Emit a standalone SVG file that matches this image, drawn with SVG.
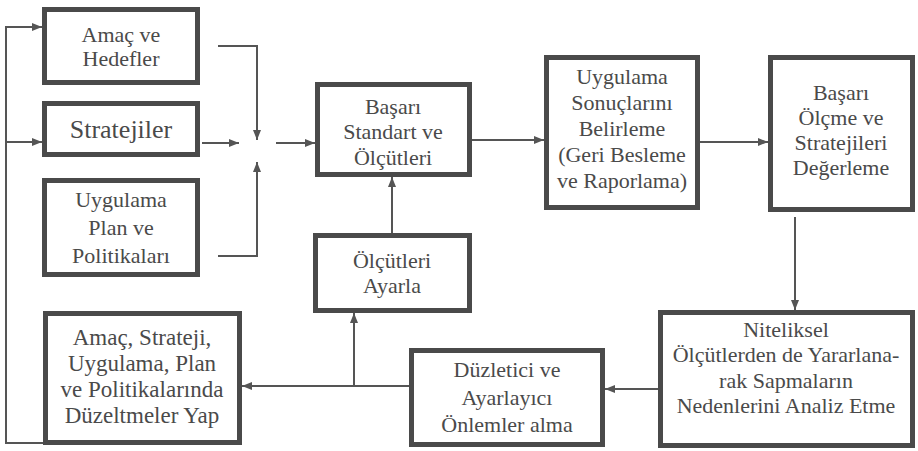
<svg xmlns="http://www.w3.org/2000/svg" width="918" height="451" viewBox="0 0 918 451">
<defs>
<marker id="ah" viewBox="0 0 10 8" refX="10" refY="4" markerWidth="10" markerHeight="8" markerUnits="userSpaceOnUse" orient="auto">
<path d="M0,0 L10,4 L0,8 z" fill="#555555" stroke="none"/>
</marker>
</defs>
<rect x="0" y="0" width="918" height="451" fill="#ffffff"/>

<g id="connectors" fill="none" stroke="#555555" stroke-width="2">
<path d="M218,46 H257 V140" marker-end="url(#ah)"/>
<path d="M202,143 H239" marker-end="url(#ah)"/>
<path d="M218,256 H257 V162" marker-end="url(#ah)"/>
<path d="M276,143 H315" marker-end="url(#ah)"/>
<path d="M472,140 H544" marker-end="url(#ah)"/>
<path d="M700,142 H768" marker-end="url(#ah)"/>
<path d="M795,217 V310" marker-end="url(#ah)"/>
<path d="M658,389 H605" marker-end="url(#ah)"/>
<path d="M409,386 H242" marker-end="url(#ah)"/>
<path d="M354,386 V313" marker-end="url(#ah)"/>
<path d="M392,233 V177" marker-end="url(#ah)"/>
<path d="M43,443 H6 V27 H42" marker-end="url(#ah)"/>
<path d="M6,142 H42" marker-end="url(#ah)"/>
</g>

<g id="nodes" fill="#ffffff" stroke="#4a4a4a" stroke-width="5" font-family="Liberation Serif, serif" font-size="22" text-anchor="middle">
<g id="amac-hedefler">
<rect x="44.5" y="9.5" width="153" height="73"/>
<g fill="#4a4a4a" stroke="none" font-family="Liberation Serif, serif">
<text x="121" y="42">Amaç ve</text>
<text x="121" y="66">Hedefler</text>
</g>
</g>

<g id="stratejiler">
<rect x="44.5" y="103.5" width="153" height="51"/>
<g fill="#4a4a4a" stroke="none" font-family="Liberation Serif, serif">
<text font-size="26" x="121" y="138">Stratejiler</text>
</g>
</g>

<g id="uygulama-plan">
<rect x="44.5" y="180.5" width="153" height="94"/>
<g fill="#4a4a4a" stroke="none" font-family="Liberation Serif, serif">
<text x="121" y="207">Uygulama</text>
<text x="121" y="235">Plan ve</text>
<text x="121" y="263">Politikaları</text>
</g>
</g>

<g id="basari-standart">
<rect x="317.5" y="84.5" width="152" height="90"/>
<g fill="#4a4a4a" stroke="none" font-family="Liberation Serif, serif">
<text x="393" y="114">Başarı</text>
<text x="393" y="139">Standart ve</text>
<text x="393" y="165">Ölçütleri</text>
</g>
</g>

<g id="uygulama-sonuclari">
<rect x="546.5" y="57.5" width="151" height="150"/>
<g fill="#4a4a4a" stroke="none" font-family="Liberation Serif, serif">
<text x="622" y="84">Uygulama</text>
<text x="622" y="110">Sonuçlarını</text>
<text x="622" y="136">Belirleme</text>
<text x="622" y="162">(Geri Besleme</text>
<text x="622" y="188">ve Raporlama)</text>
</g>
</g>

<g id="basari-olcme">
<rect x="770.5" y="57.5" width="142" height="152"/>
<g fill="#4a4a4a" stroke="none" font-family="Liberation Serif, serif">
<text x="841" y="100">Başarı</text>
<text x="841" y="125">Ölçme ve</text>
<text x="841" y="150">Stratejileri</text>
<text x="841" y="175">Değerleme</text>
</g>
</g>

<g id="niteliksel">
<rect x="660.5" y="312.5" width="252" height="133"/>
<g fill="#4a4a4a" stroke="none" font-family="Liberation Serif, serif">
<text x="786" y="337">Niteliksel</text>
<text x="786" y="362">Ölçütlerden de Yararlana-</text>
<text x="786" y="388">rak Sapmaların</text>
<text x="786" y="413">Nedenlerini Analiz Etme</text>
</g>
</g>

<g id="duzletici">
<rect x="411.5" y="350.5" width="191" height="94"/>
<g fill="#4a4a4a" stroke="none" font-family="Liberation Serif, serif">
<text x="507" y="377">Düzletici ve</text>
<text x="507" y="405">Ayarlayıcı</text>
<text x="507" y="432">Önlemler alma</text>
</g>
</g>

<g id="olcutleri-ayarla">
<rect x="315.5" y="235.5" width="154" height="75"/>
<g fill="#4a4a4a" stroke="none" font-family="Liberation Serif, serif">
<text x="392" y="268">Ölçütleri</text>
<text x="392" y="293">Ayarla</text>
</g>
</g>

<g id="duzeltmeler-yap">
<rect x="45.5" y="313.5" width="194" height="129"/>
<g fill="#4a4a4a" stroke="none" font-family="Liberation Serif, serif" font-size="23">
<text x="142" y="345">Amaç, Strateji,</text>
<text x="142" y="371">Uygulama, Plan</text>
<text x="142" y="397">ve Politikalarında</text>
<text x="142" y="423">Düzeltmeler Yap</text>
</g>
</g>
</g>
</svg>
